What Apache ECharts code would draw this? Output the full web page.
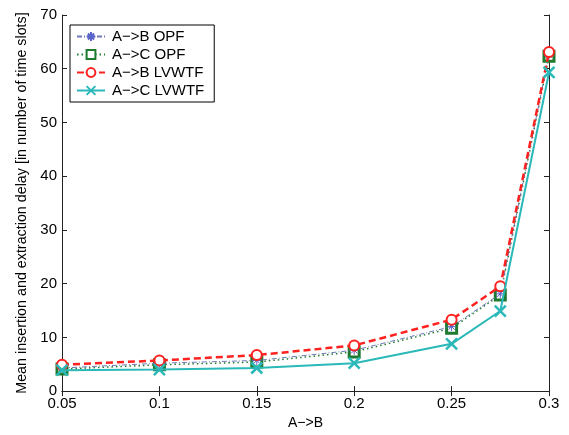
<!DOCTYPE html>
<html><head><meta charset="utf-8">
<script src="https://cdn.jsdelivr.net/npm/echarts@6/dist/echarts.min.js"></script>
<style>html,body{margin:0;padding:0;background:#fff}#c{width:569px;height:435px}</style>
</head><body><div id="c"></div>
<script>
var xValues = [0.05, 0.1, 0.15, 0.2, 0.25, 0.275, 0.3];
var abOPF = [4.3, 5.2, 5.7, 7.6, 12.0, 18.1, 62.6];
var acOPF = [4.1, 4.9, 5.4, 7.3, 11.7, 17.9, 62.3];
var abLVWTF = [4.9, 5.7, 6.7, 8.5, 13.3, 19.5, 63.1];
var acLVWTF = [3.9, 4.0, 4.3, 5.2, 8.8, 14.9, 59.3];
var seriesNames = ['A\u2212>B OPF', 'A\u2212>C OPF', 'A\u2212>B LVWTF', 'A\u2212>C LVWTF'];
var xTitle = 'A\u2212>B';
var yTitle = 'Mean insertion and extraction delay [in number of time slots]';

function pairs(v){ return xValues.map(function(x,i){return [x, v[i]];}); }
var FONT = 'Liberation Sans, Arial, sans-serif';
var star = 'path://M5,0L5,10M0,5L10,5M1.5,1.5L8.5,8.5M8.5,1.5L1.5,8.5';
var cross = 'path://M0,0L10,10M10,0L0,10';

var chart = echarts.init(document.getElementById('c'), null, {renderer:'canvas'});
var line = {show:true, lineStyle:{color:'#222', width:1}};
var tick = {show:true, inside:true, length:5, lineStyle:{color:'#222'}};
chart.setOption({
  animation:false,
  textStyle:{fontFamily:FONT},
  grid:{left:62, width:487, top:15, height:382, containLabel:false},
  legend:{
    orient:'vertical', left:70, top:25, itemGap:3, itemWidth:28, itemHeight:11,
    borderColor:'#000', borderWidth:1, padding:[4,10,4,6], backgroundColor:'#fff',
    textStyle:{fontFamily:FONT, fontSize:15, color:'#000', padding:[0,0,0,2]},
    data:seriesNames
  },
  xAxis:[{
    type:'value', min:0.05, max:0.3, interval:0.05,
    name:xTitle, nameLocation:'middle', nameGap:21,
    nameTextStyle:{fontFamily:FONT, fontSize:14, color:'#000'},
    axisLine:line, splitLine:{show:false}, axisTick:tick,
    axisLabel:{fontFamily:FONT, fontSize:15, color:'#000', margin:5,
      formatter:function(v){return String(Math.round(v*100)/100);}}
  },{
    type:'value', min:0.05, max:0.3, interval:0.05, position:'top',
    axisLine:line, splitLine:{show:false}, axisTick:tick, axisLabel:{show:false}
  }],
  yAxis:[{
    type:'value', min:0, max:70, interval:10,
    name:yTitle, nameLocation:'middle', nameGap:33,
    nameTextStyle:{fontFamily:FONT, fontSize:14.3, color:'#000'},
    axisLine:line, splitLine:{show:false}, axisTick:tick,
    axisLabel:{fontFamily:FONT, fontSize:15, color:'#000', margin:5}
  },{
    type:'value', min:0, max:70, interval:10, position:'right',
    axisLine:line, splitLine:{show:false}, axisTick:tick, axisLabel:{show:false}
  }],
  series:[
    {name:seriesNames[0], type:'line', data:pairs(abOPF), z:3,
     symbol:star, symbolSize:9,
     lineStyle:{color:'#7078b8', width:1, type:[5,2,1,2]},
     itemStyle:{color:'#7078b8', borderColor:'#5a64c8', borderWidth:1}},
    {name:seriesNames[1], type:'line', data:pairs(acOPF), z:2,
     symbol:'rect', symbolSize:10,
     lineStyle:{color:'#1e7a2e', width:1.5, type:[1.5,3]},
     itemStyle:{color:'#ffffff', borderColor:'#1e7a2e', borderWidth:3}},
    {name:seriesNames[2], type:'line', data:pairs(abLVWTF), z:4,
     symbol:'circle', symbolSize:10,
     lineStyle:{color:'#ff2020', width:2.5, type:[7,4]},
     itemStyle:{color:'#ffffff', borderColor:'#ff2020', borderWidth:2}},
    {name:seriesNames[3], type:'line', data:pairs(acLVWTF), z:5,
     symbol:cross, symbolSize:11,
     lineStyle:{color:'#2ab8b8', width:2},
     itemStyle:{color:'#2ab8b8', borderColor:'#2ab8b8', borderWidth:2.5}}
  ]
});
</script></body></html>
